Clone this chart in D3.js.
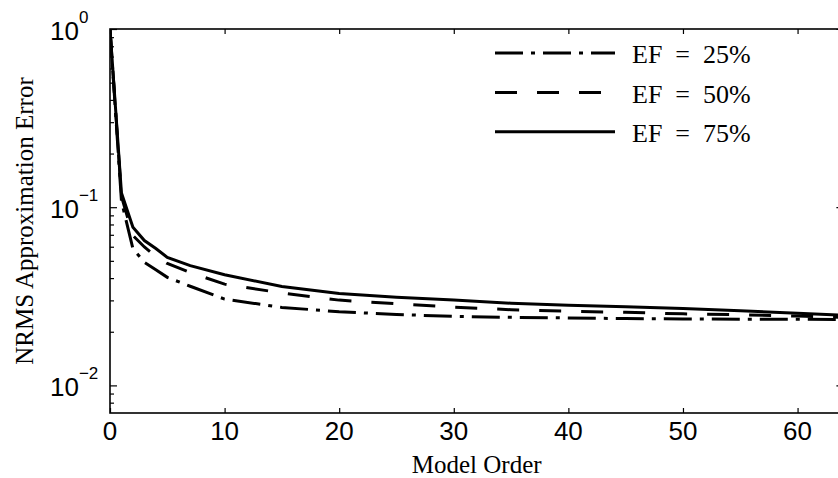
<!DOCTYPE html>
<html>
    <head>
        <meta charset="utf-8" />
        <script src="https://d3js.org/d3.v7.min.js"></script>
        <style>
            body {
                margin: 0;
                background: #fff;
            }

            .tick-label {
                font-family: "Liberation Sans", Arial, sans-serif;
                font-size: 26px;
                fill: #000;
            }

            .title {
                font-family: "Liberation Serif", "Times New Roman", serif;
                font-size: 25px;
                fill: #000;
            }

            .curve {
                fill: none;
                stroke: #000;
                stroke-width: 3px;
            }
        </style>
    </head>
    <body>
        <svg id="chart" width="838" height="478"></svg>
        <script>
            var orders = [0, 1, 2, 3, 4, 5, 7, 10, 15, 20, 25, 30, 35, 40, 45, 50, 55, 60, 64];

            var ef25 = [1.0, 0.108, 0.0586, 0.049, 0.0446, 0.0404, 0.036, 0.0305, 0.0274, 0.0259,
                        0.0250, 0.0244, 0.0241, 0.0239, 0.0237, 0.0236, 0.0235, 0.0235, 0.0234];
            var ef50 = [1.0, 0.115, 0.0693, 0.0598, 0.0529, 0.0483, 0.043, 0.037, 0.033, 0.0301,
                        0.0287, 0.0275, 0.0266, 0.0261, 0.0257, 0.0252, 0.0249, 0.0245, 0.0241];
            var ef75 = [1.0, 0.12, 0.0772, 0.065, 0.0586, 0.0523, 0.047, 0.0418, 0.0359, 0.0328,
                        0.0312, 0.0301, 0.0289, 0.0282, 0.0276, 0.0270, 0.0262, 0.0254, 0.0248];

            var seriesNames = ["EF = 25%", "EF = 50%", "EF = 75%"];
            var dashes = ["28,8,4,8", "22,20", null];

            var xTicks = [0, 10, 20, 30, 40, 50, 60];
            var yMajor = [1, 0.1, 0.01];
            var yExp = ["0", "\u22121", "\u22122"];

            var svg = d3.select("#chart");

            var plotL = 110, plotR = 843.4, plotT = 29, plotB = 413;

            var x = d3.scaleLinear().domain([0, 64]).range([plotL, plotR]);
            var y = d3.scaleLog().domain([0.007, 1]).range([plotB, plotT]);

            // minor ticks for the log axis
            var yMinor = [];
            [0.001, 0.01, 0.1].forEach(function(dec) {
                for (var k = 2; k <= 9; k++) {
                    var v = dec * k;
                    if (v > 0.007 && v < 1) yMinor.push(v);
                }
            });

            svg.append("defs").append("clipPath")
                .attr("id", "plot-clip")
                .append("rect")
                .attr("x", plotL).attr("y", plotT)
                .attr("width", plotR - plotL).attr("height", plotB - plotT);

            // curves
            var line = d3.line()
                .x(function(d) { return x(d[0]); })
                .y(function(d) { return y(d[1]); });

            var allSeries = [ef25, ef50, ef75];
            svg.append("g")
                .attr("clip-path", "url(#plot-clip)")
                .selectAll("path")
                .data(allSeries)
                .enter().append("path")
                .attr("class", "curve")
                .attr("stroke-dasharray", function(d, i) { return dashes[i]; })
                .attr("d", function(d) {
                    return line(orders.map(function(o, j) { return [o, d[j]]; }));
                });

            // axes, ticks pointing inward
            function strip(g) {
                g.select(".domain").remove();
                g.selectAll(".tick line").attr("stroke", "#000").attr("stroke-width", 1.2);
            }

            svg.append("g").attr("transform", "translate(0," + plotB + ")")
                .call(d3.axisBottom(x).tickValues(xTicks).tickSize(-5).tickFormat(""))
                .call(strip);
            svg.append("g").attr("transform", "translate(0," + plotT + ")")
                .call(d3.axisTop(x).tickValues(xTicks).tickSize(-5).tickFormat(""))
                .call(strip);
            svg.append("g").attr("transform", "translate(" + plotL + ",0)")
                .call(d3.axisLeft(y).tickValues(yMajor).tickSize(-7).tickFormat(""))
                .call(strip);
            svg.append("g").attr("transform", "translate(" + plotL + ",0)")
                .call(d3.axisLeft(y).tickValues(yMinor).tickSize(-4).tickFormat(""))
                .call(strip);
            svg.append("g").attr("transform", "translate(" + plotR + ",0)")
                .call(d3.axisRight(y).tickValues(yMajor).tickSize(-7).tickFormat(""))
                .call(strip);
            svg.append("g").attr("transform", "translate(" + plotR + ",0)")
                .call(d3.axisRight(y).tickValues(yMinor).tickSize(-4).tickFormat(""))
                .call(strip);

            svg.append("rect")
                .attr("x", plotL).attr("y", plotT)
                .attr("width", plotR - plotL).attr("height", plotB - plotT)
                .attr("fill", "none")
                .attr("stroke", "#000")
                .attr("stroke-width", 1.6);

            // tick labels
            svg.selectAll(".xlab")
                .data(xTicks)
                .enter().append("text")
                .attr("class", "tick-label")
                .attr("x", function(d) { return x(d); })
                .attr("y", plotB + 27)
                .attr("text-anchor", "middle")
                .text(function(d) { return d; });

            var ylab = svg.selectAll(".ylab")
                .data(yMajor)
                .enter().append("text")
                .attr("class", "tick-label")
                .attr("x", 50)
                .attr("y", function(d) { return y(d) + 11; });
            ylab.append("tspan").text("10");
            ylab.append("tspan")
                .attr("dy", -17)
                .style("font-size", "17px")
                .text(function(d, i) { return yExp[i]; });

            // axis titles
            svg.append("text")
                .attr("class", "title")
                .attr("x", (plotL + plotR) / 2)
                .attr("y", 473)
                .attr("text-anchor", "middle")
                .text("Model Order");

            svg.append("text")
                .attr("class", "title")
                .attr("transform", "translate(33," + ((plotT + plotB) / 2) + ") rotate(-90)")
                .attr("text-anchor", "middle")
                .text("NRMS Approximation Error");

            // legend
            var legend = svg.append("g");
            var rowY = [53, 92.5, 131.7];
            seriesNames.forEach(function(name, i) {
                legend.append("line")
                    .attr("class", "curve")
                    .attr("x1", 495).attr("x2", 615)
                    .attr("y1", rowY[i]).attr("y2", rowY[i])
                    .attr("stroke-dasharray", dashes[i]);
                legend.append("text")
                    .attr("class", "title")
                    .style("font-size", "26px")
                    .attr("x", 632)
                    .attr("y", rowY[i] + 10)
                    .text(name.replace(/ /g, "\u2002"));
            });
        </script>
    </body>
</html>
